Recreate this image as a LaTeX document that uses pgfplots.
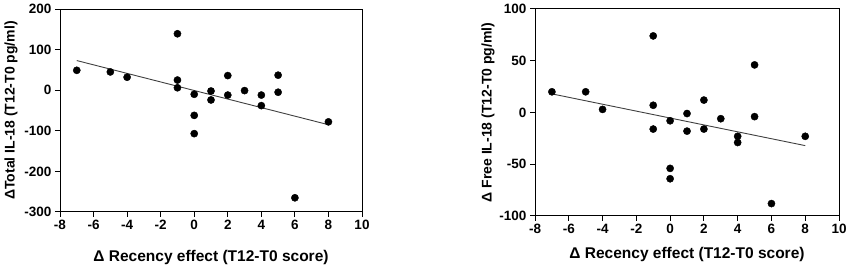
\documentclass[border=0pt]{standalone}
\usepackage{pgfplots}
\pgfplotsset{compat=1.18}
\usepackage{fontspec}
\setmainfont{Liberation Sans}
\begin{document}
\begin{tikzpicture}
\useasboundingbox (0pt,0pt) rectangle (850pt,267pt);
\pgfplotsset{
  myax/.style={
    scale only axis,
    axis line style={line width=1pt},
    tick style={line width=1pt,black},
    tick align=outside,
    major tick length=5pt,
    xtick pos=bottom, ytick pos=left,
    /pgf/number format/assume math mode=true,
    tick label style={font=\fontsize{13.5}{14}\selectfont\bfseries},
    xlabel style={font=\fontsize{15.5}{17}\selectfont\bfseries},
    ylabel style={font=\fontsize{14}{15}\selectfont\bfseries},
    xmin=-8, xmax=10, xtick={-8,-6,...,10},
    xlabel={Δ Recency effect (T12-T0 score)},
    scaled ticks=false,
  },
}
\begin{axis}[myax, at={(60pt,55pt)}, anchor=south west, width=302pt, height=203pt,
  ymin=-300, ymax=200, ytick={-300,-200,...,200},
  ylabel={ΔTotal IL-18 (T12-T0 pg/ml)},
  xlabel style={yshift=-13pt},
  ylabel style={yshift=0pt}]
\addplot[only marks, mark=*, mark size=3.6pt, black] coordinates {
(-7,49) (-5,45) (-4,32) (-1,139) (-1,25) (-1,6) (0,-10) (0,-62) (0,-107)
(1,-2) (1,-24) (2,36) (2,-12) (3,-1) (4,-12) (4,-38) (5,37) (5,-5) (6,-265) (8,-78)};
\addplot[line width=0.9pt, black!75] coordinates {(-7,73) (8,-85)};
\end{axis}
\begin{axis}[myax, at={(535pt,51pt)}, anchor=south west, width=304pt, height=207pt,
  ymin=-100, ymax=100, ytick={-100,-50,...,100},
  ylabel={Δ Free IL-18 (T12-T0 pg/ml)},
  xlabel style={yshift=-6pt},
  ylabel style={yshift=-2pt}]
\addplot[only marks, mark=*, mark size=3.6pt, black] coordinates {
(-7,20) (-5,20) (-4,3) (-1,74) (-1,7) (-1,-16) (0,-8) (0,-54) (0,-64)
(1,-1) (1,-18) (2,12) (2,-16) (3,-6) (4,-23) (4,-29) (5,46) (5,-4) (6,-88) (8,-23)};
\addplot[line width=0.9pt, black!75] coordinates {(-7,18) (8,-32)};
\end{axis}
\end{tikzpicture}
\end{document}
